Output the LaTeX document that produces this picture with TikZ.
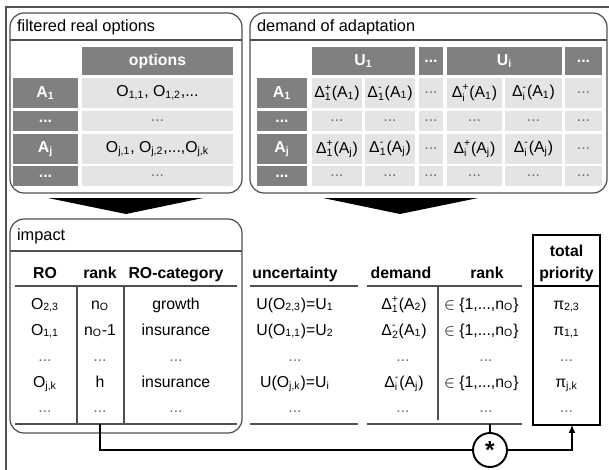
\documentclass[tikz,border=0pt]{standalone}
\usepackage{amsmath}
\usepackage{fontspec}
\setmainfont{Liberation Sans}
\usetikzlibrary{arrows.meta,positioning}
\definecolor{cdark}{HTML}{808080}
\definecolor{clight}{HTML}{E4E4E4}
\definecolor{cline}{HTML}{505050}
\definecolor{cdots}{HTML}{6E6E6E}
\newcommand{\dl}[3]{$\text{Δ}^{\text{#2}}_{\text{#1}}$(A\textsubscript{#3})}
\newcommand{\dd}{\textcolor{cdots}{...}}
\newcommand{\inset}{$\in$ \{1,...,n\textsubscript{O}\}}

\begin{document}
\begin{tikzpicture}[x=0.02cm,y=-0.02cm,>=Latex,font=\fontsize{9}{10.5}\selectfont,
  every node/.style={inner sep=1pt},
  panel/.style={draw=cline,line width=0.7pt,rounded corners=0.28cm},
  title/.style={anchor=west,font=\fontsize{9.3}{11}\selectfont},
  dark/.style={fill=cdark},
  light/.style={fill=clight},
  hd/.style={text=white,font=\fontsize{9}{10.5}\selectfont\bfseries},
  rule/.style={draw=cline,line width=0.6pt},
  conn/.style={draw=black,line width=0.8pt}]
  \useasboundingbox (0,0) rectangle (609,470);
  \draw[cline,line width=0.7pt] (609,7) -- (6,7) -- (6,470);

  % filtered real options
  \draw[panel] (10,13) rectangle (242,193);
  \draw[cline,line width=0.6pt] (10,40) -- (242,40);
  \node[title] (t1) at (15,27) {filtered real options};
  \fill[dark] (82,47) rectangle (233,75);
  \node[hd] (opt) at (157.5,61) {options};
  \foreach \ya/\yb/\lab/\txt [count=\r] in {78/108/{A\textsubscript{1}}/{O\textsubscript{1,1}, O\textsubscript{1,2},...},
      111/131/{...}/{\dd},
      134/164/{A\textsubscript{j}}/{O\textsubscript{j,1}, O\textsubscript{j,2},...,O\textsubscript{j,k}},
      166/186/{...}/{\dd}} {
    \fill[dark] (13,\ya) rectangle (78,\yb);
    \fill[light] (82,\ya) rectangle (233,\yb);
    \node[hd] (fa\r) at (45.5,{(\ya+\yb)/2}) {\lab};
    \node (fo\r) at (157.5,{(\ya+\yb)/2}) {\txt};
  }

  % demand of adaptation
  \draw[panel] (250,13) rectangle (607,193);
  \draw[cline,line width=0.6pt] (250,40) -- (607,40);
  \node[title] (t2) at (255,27) {demand of adaptation};
  \foreach \xa/\xb/\lab [count=\c] in {312/415/{U\textsubscript{1}},419/443/{...},447/562/{U\textsubscript{i}},565/602/{...}} {
    \fill[dark] (\xa,47) rectangle (\xb,75);
    \node[hd] (u\c) at ({(\xa+\xb)/2},61) {\lab};
  }
  \foreach \ya/\yb/\lab [count=\r] in {78/108/{A\textsubscript{1}},111/131/{...},134/164/{A\textsubscript{j}},166/186/{...}} {
    \fill[dark] (257,\ya) rectangle (307,\yb);
    \node[hd] (da\r) at (282,{(\ya+\yb)/2}) {\lab};
    \foreach \xa/\xb in {312/362,365/415,419/443,447/502,505/562,565/602}
      \fill[light] (\xa,\ya) rectangle (\xb,\yb);
  }
  \foreach \ym/\a [count=\r] in {93/1,149/j} {
    \node (dp\r) at (337,\ym) {\dl{1}{+}{\a}};
    \node (dm\r) at (390,\ym) {\dl{1}{-}{\a}};
    \node (dx\r) at (431,\ym) {\dd};
    \node (ip\r) at (474.5,\ym) {\dl{i}{+}{\a}};
    \node (im\r) at (533.5,\ym) {\dl{i}{-}{\a}};
    \node (ix\r) at (583.5,\ym) {\dd};
  }
  \foreach \ym [count=\r] in {121,176}
    \foreach \xm [count=\c] in {337,390,431,474.5,533.5,583.5}
      \node (e\r\c) at (\xm,\ym) {\dd};

  % big arrows
  \fill (48,198) -- (203,198) -- (126,214) -- cycle;
  \fill (323,198) -- (478,198) -- (400,214) -- cycle;

  % impact
  \draw[panel] (10,219) rectangle (242,433);
  \draw[cline,line width=0.6pt] (10,251) -- (242,251);
  \node[title] (t3) at (15,236) {impact};
  \foreach \xm/\lab [count=\c] in {45/RO,100/rank,176/RO-category,295/uncertainty,401/demand,487/rank} {
    \node[anchor=base,font=\fontsize{9}{10.5}\selectfont\bfseries] (h\c) at (\xm,278) {\lab};
  }
  \node[anchor=base,align=center,font=\fontsize{9}{12}\selectfont\bfseries] (h7) at (566.5,278) {total\\priority};
  \draw[rule] (15,286) -- (237,286);
  \draw[rule] (250,286) -- (358,286);
  \draw[rule] (367,286) -- (522,286);
  \draw[rule] (15,424) -- (237,424);
  \draw[rule] (250,424) -- (358,424);
  \draw[rule] (367,424) -- (522,424);
  \draw[rule] (77,286) -- (77,424);
  \draw[rule] (124,286) -- (124,424);
  \draw[rule] (438,286) -- (438,420);
  \draw[line width=1.7pt] (533,235) rectangle (600,425);
  \draw[line width=1pt] (533,286) -- (600,286);
  \foreach \yb/\ro/\rk/\cat/\unc/\dem/\pri [count=\r] in {
      309/{O\textsubscript{2,3}}/{n\textsubscript{O}}/growth/{U(O\textsubscript{2,3})=U\textsubscript{1}}/{\dl{1}{+}{2}}/{π\textsubscript{2,3}},
      335/{O\textsubscript{1,1}}/{n\textsubscript{O}-1}/insurance/{U(O\textsubscript{1,1})=U\textsubscript{2}}/{\dl{2}{-}{1}}/{π\textsubscript{1,1}},
      387/{O\textsubscript{j,k}}/h/insurance/{U(O\textsubscript{j,k})=U\textsubscript{i}}/{\dl{i}{-}{j}}/{π\textsubscript{j,k}}} {
    \node[anchor=base] (ro\r) at (45,\yb) {\ro};
    \node[anchor=base] (rk\r) at (100,\yb) {\rk};
    \node[anchor=base] (ca\r) at (176,\yb) {\cat};
    \node[anchor=base] (un\r) at (295,\yb) {\unc};
    \node[anchor=base] (de\r) at (404,\yb) {\dem};
    \node[anchor=base west] (rn\r) at (442,\yb) {\inset};
    \node[anchor=base] (pi\r) at (566.5,\yb) {\pri};
  }
  \foreach \yb [count=\r] in {361,412}
    \foreach \xm [count=\c] in {45,100,176,295,403,486,566.5}
      \node[anchor=base] (z\r\c) at (\xm,\yb) {\dd};

  % combination
  \coordinate (rkbot) at (100,424);
  \coordinate (dmbot) at (490,424);
  \coordinate (prioin) at (572,425);
  \node[circle,draw,line width=1.1pt,minimum size=0.68cm,inner sep=0pt] (star) at (490,450)
    {\raisebox{-0.9ex}{\fontsize{14}{14}\selectfont\bfseries *}};
  \draw[conn] (rkbot) |- (star);
  \draw[conn] (dmbot) -- (star);
  \draw[conn,-{Latex[length=4.5pt,width=4pt]}] (star) -| (prioin);
\end{tikzpicture}
\end{document}
